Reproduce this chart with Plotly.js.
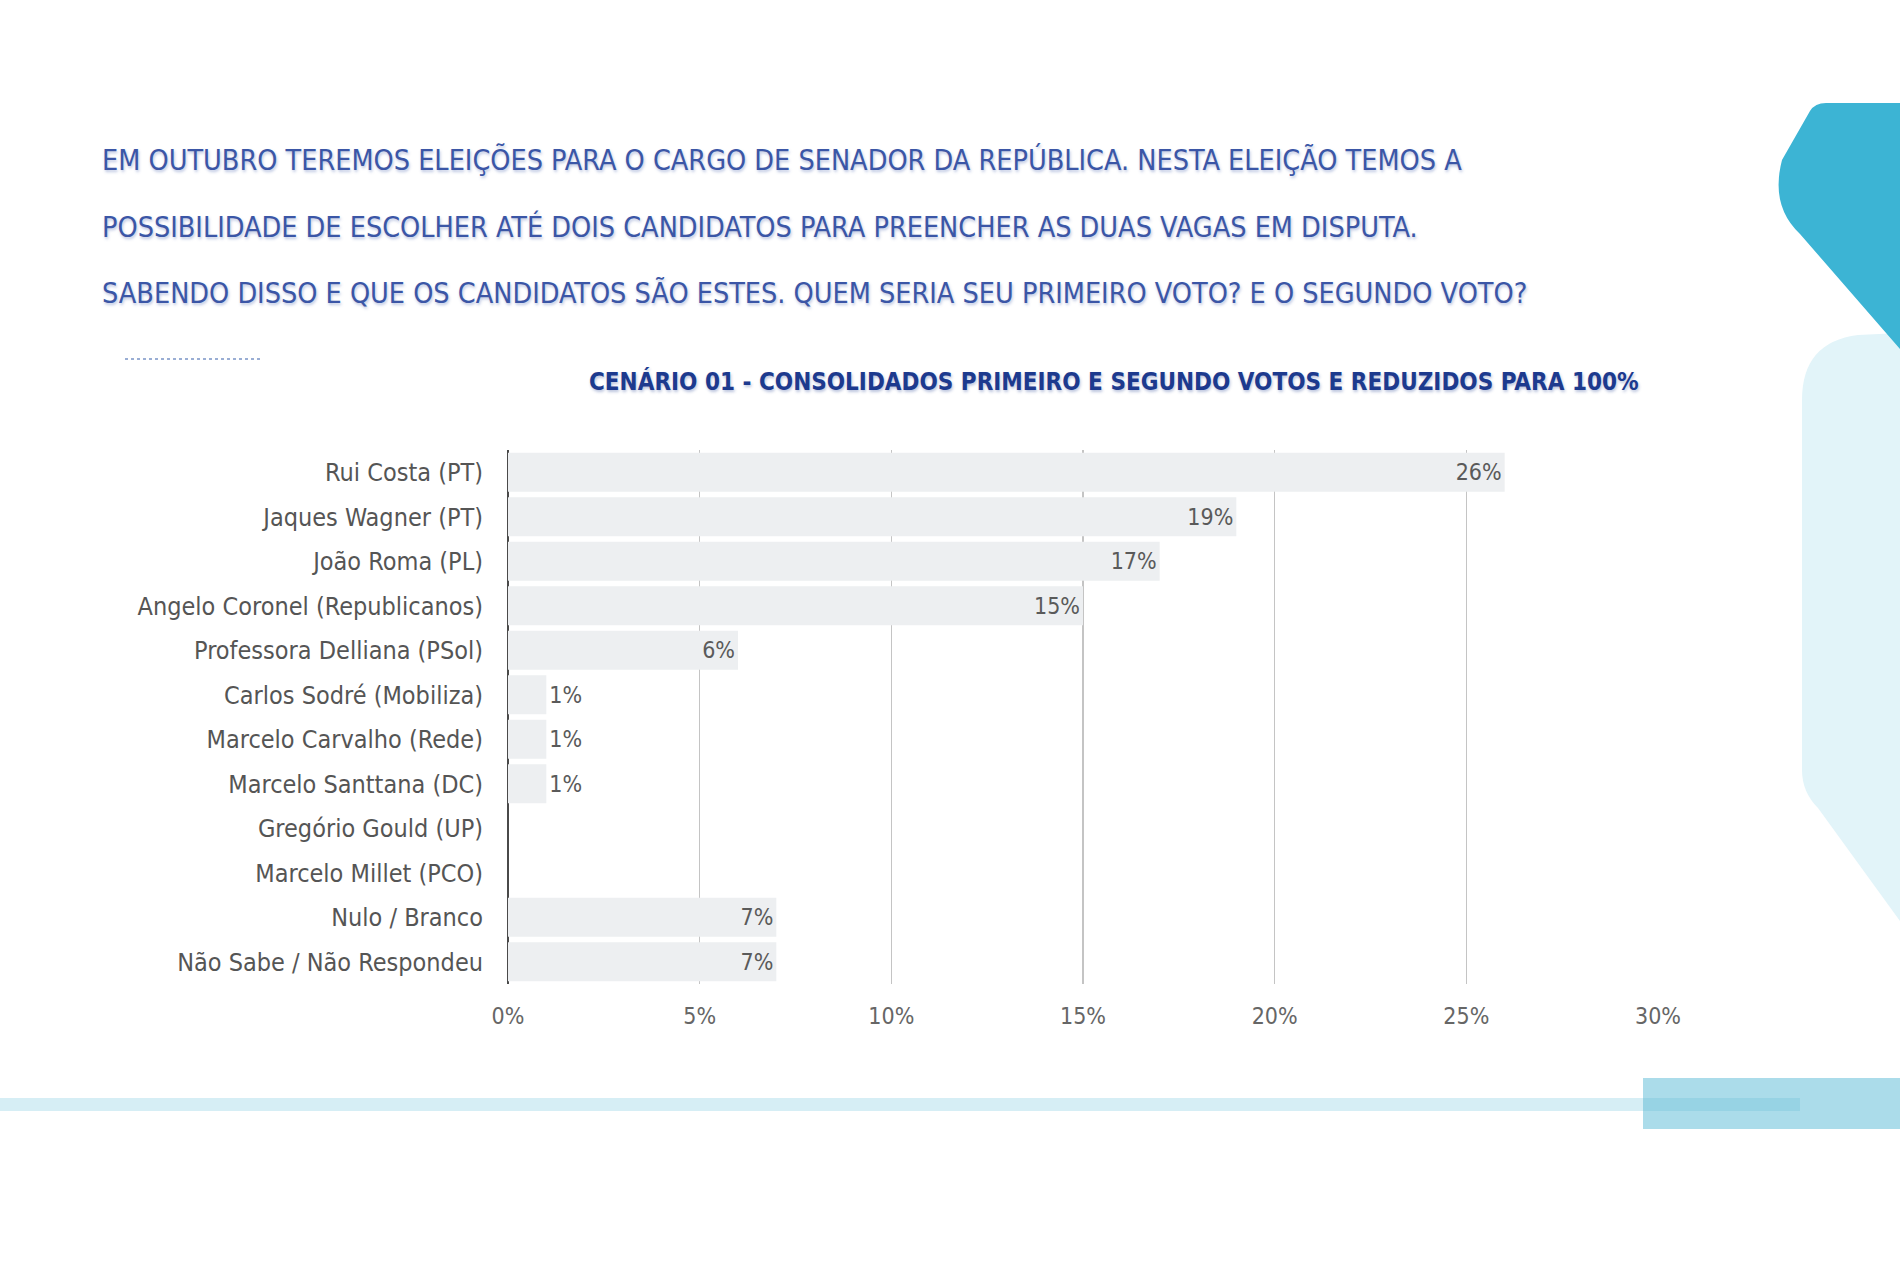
<!DOCTYPE html>
<html>
<head>
<meta charset="utf-8">
<script src="https://cdn.plot.ly/plotly-3.0.1.min.js"></script>
<style>
html,body{margin:0;padding:0;background:#fff;}
#chart{width:1900px;height:1267px;}
</style>
</head>
<body>
<div id="chart"></div>
<script>
// ---- data ----
const categories = [
  "Rui Costa (PT)",
  "Jaques Wagner (PT)",
  "João Roma (PL)",
  "Angelo Coronel (Republicanos)",
  "Professora Delliana (PSol)",
  "Carlos Sodré (Mobiliza)",
  "Marcelo Carvalho (Rede)",
  "Marcelo Santtana (DC)",
  "Gregório Gould (UP)",
  "Marcelo Millet (PCO)",
  "Nulo / Branco",
  "Não Sabe / Não Respondeu"
];
const values = [26, 19, 17, 15, 6, 1, 1, 1, 0, 0, 7, 7];
const xTickVals = [0, 5, 10, 15, 20, 25, 30];
const xTickLabels = ["0%", "5%", "10%", "15%", "20%", "25%", "30%"];
const titleLines = [
  "EM OUTUBRO TEREMOS ELEIÇÕES PARA O CARGO DE SENADOR DA REPÚBLICA. NESTA ELEIÇÃO TEMOS A",
  "POSSIBILIDADE DE ESCOLHER ATÉ DOIS CANDIDATOS PARA PREENCHER AS DUAS VAGAS EM DISPUTA.",
  "SABENDO DISSO E QUE OS CANDIDATOS SÃO ESTES. QUEM SERIA SEU PRIMEIRO VOTO? E O SEGUNDO VOTO?"
];
const subtitle = "CENÁRIO 01 - CONSOLIDADOS PRIMEIRO E SEGUNDO VOTOS E REDUZIDOS PARA 100%";

// ---- layout geometry (pixels) ----
const W = 1900, H = 1267;
const PL = 508, PR = 1658, PT = 450, PB = 984;
const px = x => (x - PL) / (PR - PL);
const py = y => (PB - y) / (PB - PT);
const pt = (x, y) => px(x).toFixed(5) + "," + py(y).toFixed(5);

const FONT = '"DejaVu Sans Condensed", "Liberation Sans Narrow", sans-serif';

const trace = {
  type: "bar",
  orientation: "h",
  y: categories,
  x: values,
  marker: {color: "#edeff1", line: {width: 0}},
  text: values.map(v => v > 0 ? v + "%" : ""),
  textposition: values.map(v => v >= 5 ? "inside" : "outside"),
  insidetextanchor: "end",
  constraintext: "none",
  cliponaxis: false,
  textfont: {family: FONT, size: 23, color: "#5a5a5a"},
  hoverinfo: "skip"
};

const shapes = [
  // right decorations
  {type: "path", xref: "paper", yref: "paper", layer: "below",
   path: "M " + pt(1900,333) + " L " + pt(1858,335) + " Q " + pt(1802,342) + " " + pt(1802,400) +
         " L " + pt(1802,770) + " Q " + pt(1802,792) + " " + pt(1818,808) + " L " + pt(1900,921) + " Z",
   fillcolor: "#e2f4f9", line: {width: 0}},
  {type: "path", xref: "paper", yref: "paper", layer: "below",
   path: "M " + pt(1826,103) + " L " + pt(1900,103) + " L " + pt(1900,349) + " L " + pt(1800,234) +
         " Q " + pt(1770,206) + " " + pt(1782,160) + " L " + pt(1810,111) + " Q " + pt(1815,103) + " " + pt(1826,103) + " Z",
   fillcolor: "#3cb4d4", line: {width: 0}},
  // bottom band
  {type: "rect", xref: "paper", yref: "paper", layer: "below",
   x0: px(0), x1: px(1800), y0: py(1098), y1: py(1111), fillcolor: "#d6eef5", line: {width: 0}},
  {type: "rect", xref: "paper", yref: "paper", layer: "below",
   x0: px(1643), x1: px(1900), y0: py(1078), y1: py(1129), fillcolor: "#abdcea", line: {width: 0}},
  {type: "rect", xref: "paper", yref: "paper", layer: "below",
   x0: px(1643), x1: px(1800), y0: py(1098), y1: py(1111), fillcolor: "#97d3e4", line: {width: 0}},
  // dotted divider
  {type: "line", xref: "paper", yref: "paper",
   x0: px(125), x1: px(261), y0: py(359), y1: py(359),
   line: {color: "#9aaed4", width: 2, dash: "dot"}}
];

const titleY = [160, 227, 293];
const annotations = titleLines.map((t, i) => ({
  text: t, xref: "paper", yref: "paper", x: px(100), y: py(titleY[i]),
  xanchor: "left", yanchor: "middle", showarrow: false,
  font: {family: FONT, size: 28.5, color: "#3b56a6", shadow: "1px 2px 3px rgba(60,88,168,0.35)"}
}));
annotations.push({
  text: "<b>" + subtitle + "</b>", xref: "paper", yref: "paper",
  x: px(1641), y: py(382), xanchor: "right", yanchor: "middle", showarrow: false,
  font: {family: FONT, size: 24, color: "#1d3a8e", shadow: "1px 2px 3px rgba(29,58,142,0.3)"}
});

const layout = {
  width: W, height: H,
  margin: {l: PL, r: W - PR, t: PT, b: H - PB, pad: 0},
  paper_bgcolor: "#ffffff",
  plot_bgcolor: "#ffffff",
  showlegend: false,
  bargap: 0.12,
  font: {family: FONT},
  xaxis: {
    range: [0, 30],
    tickvals: xTickVals,
    ticktext: xTickLabels,
    showgrid: true, gridcolor: "#c4c4c4", gridwidth: 1.5,
    zeroline: true, zerolinecolor: "#4a4a4a", zerolinewidth: 1.5,
    showline: false, ticks: "",
    ticklabelstandoff: 16,
    tickfont: {family: FONT, size: 23, color: "#666666"},
    fixedrange: true, automargin: false
  },
  yaxis: {
    type: "category",
    autorange: "reversed",
    showgrid: false, zeroline: false, showline: false, ticks: "",
    ticklabelstandoff: 24,
    tickfont: {family: FONT, size: 25, color: "#555555"},
    fixedrange: true, automargin: false
  },
  shapes: shapes,
  annotations: annotations
};

Plotly.newPlot("chart", [trace], layout, {displayModeBar: false, staticPlot: true});
</script>
</body>
</html>
